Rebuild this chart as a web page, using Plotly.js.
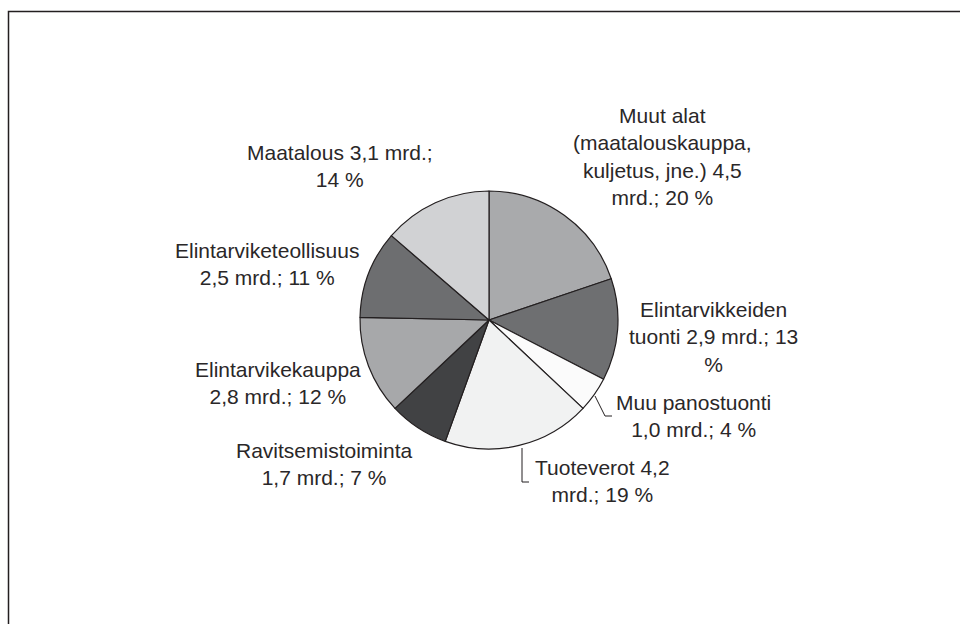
<!DOCTYPE html>
<html>
<head>
<meta charset="utf-8">
<script src="https://cdn.plot.ly/plotly-3.0.1.min.js"></script>
<style>html,body{margin:0;padding:0;background:#fff}#chart{width:960px;height:624px}</style>
</head>
<body>
<div id="chart"></div>
<script>
// Data (clockwise from 12 o'clock)
var categories = ["Muut alat (maatalouskauppa, kuljetus, jne.)", "Elintarvikkeiden tuonti", "Muu panostuonti", "Tuoteverot", "Ravitsemistoiminta", "Elintarvikekauppa", "Elintarviketeollisuus", "Maatalous"];
var valuesMrd = [4.5, 2.9, 1.0, 4.2, 1.7, 2.8, 2.5, 3.1];
var percents = [20, 13, 4, 19, 7, 12, 11, 14];
var labelTexts = [
  "Muut alat<br>(maatalouskauppa,<br>kuljetus, jne.) 4,5<br>mrd.; 20 %",
  "Elintarvikkeiden<br>tuonti 2,9 mrd.; 13<br>%",
  "Muu panostuonti<br>1,0 mrd.; 4 %",
  "Tuoteverot 4,2<br>mrd.; 19 %",
  "Ravitsemistoiminta<br>1,7 mrd.; 7 %",
  "Elintarvikekauppa<br>2,8 mrd.; 12 %",
  "Elintarviketeollisuus<br>2,5 mrd.; 11 %",
  "Maatalous 3,1 mrd.;<br>14 %"
];
var sliceColors = ["#a9aaac", "#6e6f71", "#fbfbfb", "#f1f2f2", "#414244", "#a7a8aa", "#6d6e70", "#d1d2d4"];

// Layout positions (pixels)
var W = 960, H = 624;
var cx = 489, cy = 320, R = 129;
var labelPos = [[662, 156], [713, 337], [693, 416], [602, 481], [324, 464], [278, 383], [267, 264], [340, 166]];

function px(x) { return x / W; }
function py(y) { return 1 - y / H; }

var trace = {
  type: "pie",
  labels: categories,
  values: valuesMrd,
  sort: false,
  direction: "clockwise",
  rotation: 0,
  textinfo: "none",
  hoverinfo: "label+value",
  marker: { colors: sliceColors, line: { color: "#231f20", width: 1.2 } },
  domain: { x: [px(cx - R), px(cx + R)], y: [py(cy + R), py(cy - R)] },
  showlegend: false
};

var annotations = labelTexts.map(function (t, i) {
  return {
    xref: "paper", yref: "paper",
    x: px(labelPos[i][0]), y: py(labelPos[i][1]),
    xanchor: "center", yanchor: "middle", align: "center",
    text: t, showarrow: false,
    font: { family: "Liberation Sans, Arial, sans-serif", size: 21, color: "#2a2728" }
  };
});

var leaderStyle = { color: "#231f20", width: 1 };
var shapes = [
  { type: "rect", xref: "paper", yref: "paper", x0: px(8.5), x1: 1.05, y0: -0.05, y1: py(11.5), line: { color: "#231f20", width: 1.5 }, fillcolor: "rgba(0,0,0,0)" },
  { type: "path", xref: "paper", yref: "paper", path: "M" + px(595) + "," + py(396) + " L" + px(605) + "," + py(416) + " L" + px(612) + "," + py(416), line: leaderStyle },
  { type: "path", xref: "paper", yref: "paper", path: "M" + px(522) + "," + py(448) + " L" + px(522) + "," + py(482) + " L" + px(529) + "," + py(482), line: leaderStyle }
];

var layout = {
  width: W, height: H,
  margin: { l: 0, r: 0, t: 0, b: 0 },
  paper_bgcolor: "#ffffff",
  plot_bgcolor: "#ffffff",
  font: { family: "Liberation Sans, Arial, sans-serif", color: "#231f20" },
  annotations: annotations,
  shapes: shapes
};

Plotly.newPlot("chart", [trace], layout, { displayModeBar: false, staticPlot: true });
</script>
</body>
</html>
